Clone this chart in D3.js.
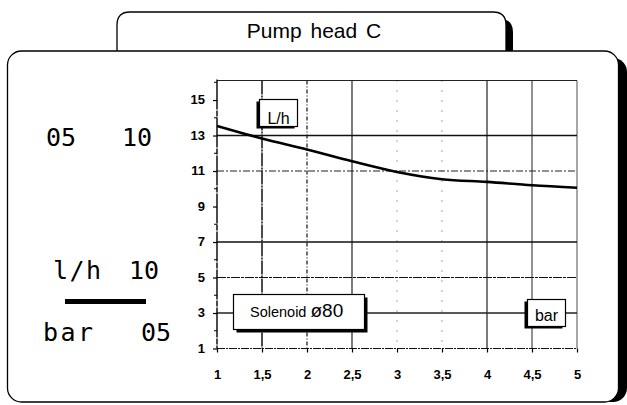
<!DOCTYPE html>
<html>
<head>
<meta charset="utf-8">
<script src="https://cdn.jsdelivr.net/npm/d3@7"></script>
<style>
  html, body { margin: 0; padding: 0; background: #fff; }
  svg { display: block; }
</style>
</head>
<body>
<svg id="chart" width="627" height="405"></svg>
<script>
// Pump head C: flow (L/h) against back-pressure (bar), solenoid ø80
const pressureBar = [1, 1.5, 2, 2.5, 3, 3.5, 4, 4.5, 5];
const flowLh      = [13.54, 12.83, 12.21, 11.55, 10.95, 10.54, 10.39, 10.2, 10.06];

const xTickValues = [1, 1.5, 2, 2.5, 3, 3.5, 4, 4.5, 5];
const xTickLabels = ["1", "1,5", "2", "2,5", "3", "3,5", "4", "4,5", "5"];
const yTickValues = [1, 3, 5, 7, 9, 11, 13, 15];
const yTickLabels = ["1", "3", "5", "7", "9", "11", "13", "15"];
const yMinorTicks = [2, 4, 6, 8, 10, 12, 14, 16];

const titleText = "Pump head C";
const seriesLabel = "Solenoid ";
const seriesSize = "ø80";
const yUnit = "L/h";
const xUnit = "bar";

const svg = d3.select("#chart");

// ---- frames -------------------------------------------------------------
function topRounded(x, y, w, h, r) {
  return `M${x},${y + h} L${x},${y + r} Q${x},${y} ${x + r},${y} L${x + w - r},${y} Q${x + w},${y} ${x + w},${y + r} L${x + w},${y + h}`;
}

// title tab
svg.append("path")
  .attr("d", topRounded(124, 19, 389, 40, 13) + " Z")
  .attr("fill", "#000");
svg.append("path")
  .attr("d", topRounded(117, 12, 389, 40, 13))
  .attr("fill", "#fff").attr("stroke", "#000").attr("stroke-width", 1.3);
svg.append("text")
  .attr("x", 314).attr("y", 38)
  .attr("text-anchor", "middle")
  .attr("font-family", "Liberation Sans, Arial, sans-serif")
  .attr("font-size", 21)
  .attr("word-spacing", 3)
  .text(titleText);

// main panel
svg.append("rect")
  .attr("x", 16).attr("y", 58).attr("width", 611).attr("height", 344)
  .attr("rx", 14).attr("fill", "#000");
svg.append("rect")
  .attr("x", 7.5).attr("y", 51).attr("width", 611).attr("height", 351)
  .attr("rx", 14).attr("fill", "#fff").attr("stroke", "#000").attr("stroke-width", 1.3);

// ---- left-hand scale legend ---------------------------------------------
const mono = "DejaVu Sans Mono, monospace";
function bigText(x, y, t, ls) {
  svg.append("text").attr("x", x).attr("y", y)
    .attr("font-family", mono).attr("font-size", 25)
    .attr("letter-spacing", ls || 0)
    .text(t);
}
bigText(46, 146, "05");
bigText(122, 146, "10");
bigText(53, 279, "l/h", 1.5);
bigText(129, 279, "10");
svg.append("rect").attr("x", 65).attr("y", 299).attr("width", 81).attr("height", 5).attr("fill", "#000");
bigText(43, 341, "bar", 2.5);
bigText(141, 341, "05");

// ---- plot -----------------------------------------------------------------
const x = d3.scaleLinear().domain([1, 5]).range([217, 577]);
const y = d3.scaleLinear().domain([1, 16.1]).range([348.5, 80.5]);

const grid = svg.append("g");

// vertical grid lines, each with its own stroke pattern
const vStyles = [
  { v: 1.5, stroke: "#000", w: 1.4, dash: "14,1,2,1" },
  { v: 2,   stroke: "#111", w: 1.2, dash: "4,2,1,2" },
  { v: 2.5, stroke: "#333", w: 1.3, dash: null },
  { v: 3,   stroke: "#555", w: 1,   dash: "1,9" },
  { v: 3.5, stroke: "#555", w: 1,   dash: "1,9" },
  { v: 4,   stroke: "#333", w: 1.3, dash: null },
  { v: 4.5, stroke: "#555", w: 1.3, dash: null },
  { v: 5,   stroke: "#777", w: 1.3, dash: null }
];
grid.selectAll("line.v").data(vStyles).join("line")
  .attr("class", "v")
  .attr("x1", d => x(d.v)).attr("x2", d => x(d.v))
  .attr("y1", y.range()[1]).attr("y2", y.range()[0])
  .attr("stroke", d => d.stroke).attr("stroke-width", d => d.w)
  .attr("stroke-dasharray", d => d.dash);

// horizontal grid lines
const hStyles = [
  { v: 13, stroke: "#111", w: 1.3, dash: null },
  { v: 11, stroke: "#222", w: 1.1, dash: "7,2,2,2" },
  { v: 7,  stroke: "#111", w: 1.3, dash: null },
  { v: 5,  stroke: "#111", w: 1.2, dash: "9,1,3,1" },
  { v: 3,  stroke: "#222", w: 1.3, dash: null },
  { v: 1,  stroke: "#111", w: 1.2, dash: "8,1,2,1" }
];
grid.selectAll("line.h").data(hStyles).join("line")
  .attr("class", "h")
  .attr("x1", x.range()[0]).attr("x2", x.range()[1])
  .attr("y1", d => y(d.v)).attr("y2", d => y(d.v))
  .attr("stroke", d => d.stroke).attr("stroke-width", d => d.w)
  .attr("stroke-dasharray", d => d.dash);

// top border of the plot
grid.append("line")
  .attr("x1", x.range()[0]).attr("x2", x.range()[1])
  .attr("y1", y.range()[1]).attr("y2", y.range()[1])
  .attr("stroke", "#222").attr("stroke-width", 1.2);

// y axis line and ticks
grid.append("line")
  .attr("x1", x(1)).attr("x2", x(1))
  .attr("y1", y.range()[1] - 1).attr("y2", y.range()[0])
  .attr("stroke", "#000").attr("stroke-width", 1.4)
  .attr("stroke-dasharray", "30,1,6,1");

const axisFont = "Liberation Sans, Arial, sans-serif";
const yAxis = d3.axisLeft(y).tickValues(yTickValues)
  .tickFormat((d, i) => yTickLabels[i]).tickSize(4).tickPadding(8);
const yg = svg.append("g").attr("transform", `translate(${x(1)},0)`).call(yAxis);
yg.select(".domain").remove();
yg.selectAll("line").attr("stroke", "#000").attr("stroke-width", 1.2);
yg.selectAll("text")
  .attr("font-family", axisFont).attr("font-weight", "bold")
  .attr("font-size", 13).attr("fill", "#000")
  .attr("dy", "0.28em");

svg.append("g").selectAll("line").data(yMinorTicks.filter(v => y(v) > y.range()[1])).join("line")
  .attr("x1", x(1) - 3).attr("x2", x(1))
  .attr("y1", d => y(d)).attr("y2", d => y(d))
  .attr("stroke", "#000").attr("stroke-width", 1);

// x axis ticks and labels
const xAxis = d3.axisBottom(x).tickValues(xTickValues)
  .tickFormat((d, i) => xTickLabels[i]).tickSize(4).tickPadding(17);
const xg = svg.append("g").attr("transform", `translate(0,${y(1)})`).call(xAxis);
xg.select(".domain").remove();
xg.selectAll("line").attr("stroke", "#000").attr("stroke-width", 1.2);
xg.selectAll("text")
  .attr("font-family", axisFont).attr("font-weight", "bold")
  .attr("font-size", 13).attr("fill", "#000");

// ---- flow curve -----------------------------------------------------------
const line = d3.line()
  .x((d, i) => x(pressureBar[i]))
  .y(d => y(d))
  .curve(d3.curveMonotoneX);
svg.append("path")
  .datum(flowLh)
  .attr("d", line)
  .attr("fill", "none")
  .attr("stroke", "#000")
  .attr("stroke-width", 2.6);

// ---- annotation boxes with drop shadows -----------------------------------
function labelBox(bx, by, bw, bh, sx, sy) {
  svg.append("rect").attr("x", bx + sx).attr("y", by + sy).attr("width", bw).attr("height", bh).attr("fill", "#000");
  svg.append("rect").attr("x", bx).attr("y", by).attr("width", bw).attr("height", bh)
    .attr("fill", "#fff").attr("stroke", "#000").attr("stroke-width", 1.2);
}

labelBox(259.5, 99.5, 38, 27, -3, 2);
svg.append("text").attr("x", 278.5).attr("y", 123.5).attr("text-anchor", "middle")
  .attr("font-family", axisFont).attr("font-size", 16).text(yUnit);

labelBox(233.5, 294.5, 131, 35, 3, 3);
const st = svg.append("text").attr("x", 250).attr("y", 317)
  .attr("font-family", axisFont);
st.append("tspan").attr("font-size", 14.5).text(seriesLabel);
st.append("tspan").attr("font-size", 19).text(seriesSize);

labelBox(527.5, 299.5, 38, 27, -3, 2);
svg.append("text").attr("x", 546.5).attr("y", 320.5).attr("text-anchor", "middle")
  .attr("font-family", axisFont).attr("font-size", 16).text(xUnit);
</script>
</body>
</html>
